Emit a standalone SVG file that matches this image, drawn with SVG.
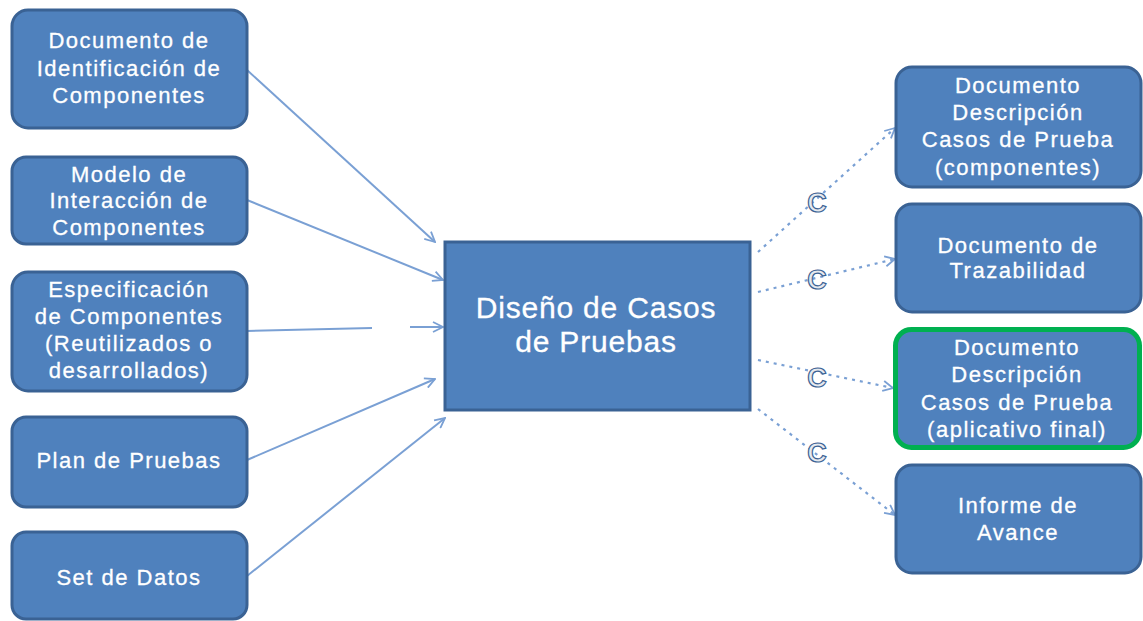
<svg xmlns="http://www.w3.org/2000/svg" width="1143" height="621" viewBox="0 0 1143 621">
<style>
.box{fill:#4f81bd;stroke:#3a6294;stroke-width:3}
.green{fill:#4f81bd;stroke:#00b050;stroke-width:5}
.t{font-family:"Liberation Sans",Arial,sans-serif;font-size:22px;fill:#ffffff;stroke:#ffffff;stroke-width:0.3;text-anchor:middle;letter-spacing:1.5px}
.big{font-size:30px;letter-spacing:0.8px}
.solid{fill:none;stroke:#7aa0d4;stroke-width:2}
.dot{fill:none;stroke:#7aa0d4;stroke-width:2.2;stroke-dasharray:3 5}
.c{font-family:"Liberation Sans",Arial,sans-serif;font-size:27px;font-weight:bold;fill:#e6e9ee;stroke:#3a6294;stroke-width:1.2;text-anchor:middle}
</style>
<defs>
<marker id="arr" viewBox="0 0 12 12" refX="11" refY="6" markerWidth="12" markerHeight="12" markerUnits="userSpaceOnUse" orient="auto">
<path d="M1,1 L11,6 L1,11" fill="none" stroke="#7aa0d4" stroke-width="1.8"/>
</marker>
</defs>
<rect width="1143" height="621" fill="#ffffff"/>
<g id="connectors">
<path class="solid" d="M247,70 L435,242" marker-end="url(#arr)"/>
<path class="solid" d="M247,200 L443,280" marker-end="url(#arr)"/>
<path class="solid" d="M247,331 L372,328"/>
<path class="solid" d="M410,327 L443,327" marker-end="url(#arr)"/>
<path class="solid" d="M247,460 L435,379" marker-end="url(#arr)"/>
<path class="solid" d="M247,576 L445,418" marker-end="url(#arr)"/>
<path class="dot" d="M758,252 L895,128" marker-end="url(#arr)"/>
<path class="dot" d="M758,292 L895,259" marker-end="url(#arr)"/>
<path class="dot" d="M758,360 L893,388" marker-end="url(#arr)"/>
<path class="dot" d="M758,409 L895,515" marker-end="url(#arr)"/>
<text class="c" x="817" y="212">C</text>
<text class="c" x="817" y="289">C</text>
<text class="c" x="817" y="387">C</text>
<text class="c" x="817" y="462">C</text>
</g>
<g id="n1"><rect class="box" x="12" y="10" width="235" height="118" rx="16"/>
<text class="t" x="129" y="48">Documento de</text><text class="t" x="129" y="76">Identificación de</text><text class="t" x="129" y="103">Componentes</text></g>
<g id="n2"><rect class="box" x="12" y="157" width="235" height="87" rx="14"/>
<text class="t" x="129" y="182">Modelo de</text><text class="t" x="129" y="208">Interacción de</text><text class="t" x="129" y="235">Componentes</text></g>
<g id="n3"><rect class="box" x="12" y="272" width="235" height="119" rx="16"/>
<text class="t" x="129" y="297">Especificación</text><text class="t" x="129" y="324">de Componentes</text><text class="t" x="129" y="351">(Reutilizados o</text><text class="t" x="129" y="378">desarrollados)</text></g>
<g id="n4"><rect class="box" x="12" y="417" width="235" height="90" rx="14"/>
<text class="t" x="129" y="468">Plan de Pruebas</text></g>
<g id="n5"><rect class="box" x="12" y="532" width="235" height="87" rx="14"/>
<text class="t" x="129" y="585">Set de Datos</text></g>
<g id="center"><rect class="box" x="445" y="242" width="305" height="168"/>
<text class="t big" x="596" y="318">Diseño de Casos</text><text class="t big" x="596" y="352">de Pruebas</text></g>
<g id="r1"><rect class="box" x="896" y="67" width="245" height="120" rx="16"/>
<text class="t" x="1018" y="93">Documento</text><text class="t" x="1018" y="120">Descripción</text><text class="t" x="1018" y="147">Casos de Prueba</text><text class="t" x="1018" y="175">(componentes)</text></g>
<g id="r2"><rect class="box" x="896" y="204" width="245" height="108" rx="16"/>
<text class="t" x="1018" y="253">Documento de</text><text class="t" x="1018" y="278">Trazabilidad</text></g>
<g id="r3"><rect class="green" x="895.5" y="329.5" width="244" height="118" rx="16"/>
<text class="t" x="1017" y="355">Documento</text><text class="t" x="1017" y="382">Descripción</text><text class="t" x="1017" y="410">Casos de Prueba</text><text class="t" x="1017" y="437">(aplicativo final)</text></g>
<g id="r4"><rect class="box" x="896" y="465" width="245" height="108" rx="16"/>
<text class="t" x="1018" y="513">Informe de</text><text class="t" x="1018" y="540">Avance</text></g>
</svg>
